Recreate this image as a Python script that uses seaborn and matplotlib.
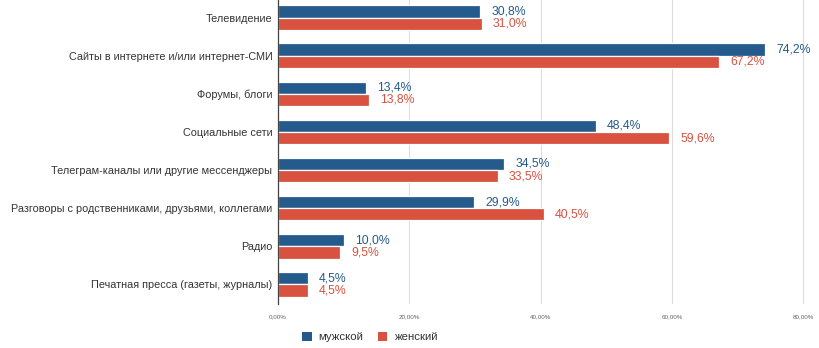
import matplotlib
matplotlib.use("Agg")
import matplotlib.pyplot as plt
import seaborn as sns
import pandas as pd
from matplotlib.patches import Patch

categories = [
    "Телевидение",
    "Сайты в интернете и/или интернет-СМИ",
    "Форумы, блоги",
    "Социальные сети",
    "Телеграм-каналы или другие мессенджеры",
    "Разговоры с родственниками, друзьями, коллегами",
    "Радио",
    "Печатная пресса (газеты, журналы)",
]
male = [30.8, 74.2, 13.4, 48.4, 34.5, 29.9, 10.0, 4.5]
female = [31.0, 67.2, 13.8, 59.6, 33.5, 40.5, 9.5, 4.5]
series_names = ["мужской", "женский"]
x_ticks = [0, 20, 40, 60, 80]
x_tick_labels = ["0,00%", "20,00%", "40,00%", "60,00%", "80,00%"]

colors = ["#245b8c", "#d95240"]

df = pd.DataFrame({
    "cat": categories * 2,
    "val": male + female,
    "sex": [series_names[0]] * len(categories) + [series_names[1]] * len(categories),
})

sns.set_theme(style="white")
plt.rcParams["font.family"] = ["Liberation Sans", "DejaVu Sans"]

fig = plt.figure(figsize=(8.2, 3.48), dpi=100)
ax = fig.add_axes([278 / 820, 44.5 / 348, (815 - 278) / 820, 305 / 348])

sns.barplot(data=df, x="val", y="cat", hue="sex", order=categories,
            hue_order=series_names, palette=colors, orient="h",
            width=0.64, ax=ax, legend=False, saturation=1,
            edgecolor="white", linewidth=0.9)

for cont, col in zip(ax.containers, colors):
    labels = [f"{v:.1f}".replace(".", ",") + "%" for v in cont.datavalues]
    ax.bar_label(cont, labels=labels, padding=8, color=col, fontsize=8.8)

ax.set_xlim(0, 81.8)
ax.set_ylim(7.5, -0.5)
ax.set_xticks(x_ticks)
ax.set_xticklabels(x_tick_labels, fontsize=4.5, color="#666666")
ax.tick_params(axis="x", length=0, pad=8)
ax.tick_params(axis="y", length=0, labelsize=7.8, labelcolor="#333333", pad=4)
ax.set_xlabel("")
ax.set_ylabel("")
ax.grid(axis="x", color="#dddddd", linewidth=0.8)
ax.set_axisbelow(True)
for s in ["top", "right", "bottom"]:
    ax.spines[s].set_visible(False)
ax.spines["left"].set_color("#444444")
ax.spines["left"].set_linewidth(0.9)

handles = [Patch(facecolor=c, edgecolor="none") for c in colors]
fig.legend(handles, series_names, loc="center", bbox_to_anchor=(370 / 820, 1 - 337 / 348),
           ncol=2, frameon=False, fontsize=8.2, handlelength=0.8, handleheight=0.8,
           columnspacing=1.3, handletextpad=0.6, labelcolor="#333333")

fig.savefig("out.png", dpi=100)
